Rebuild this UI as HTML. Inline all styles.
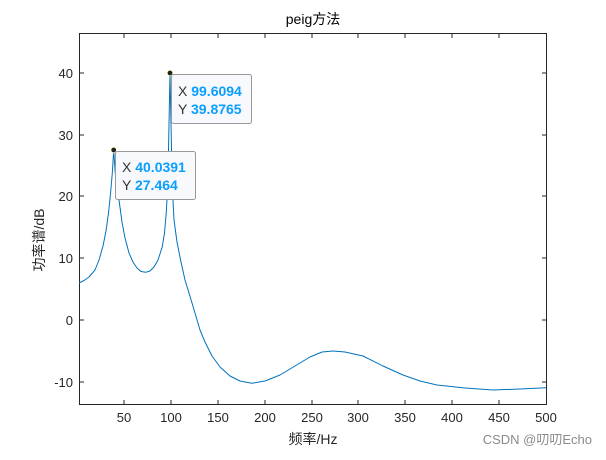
<!DOCTYPE html>
<html><head><meta charset="utf-8"><style>
body{margin:0;background:#fff;}
svg{font-family:"Liberation Sans","Noto Sans CJK SC",sans-serif;}
</style></head><body>
<svg width="606" height="455" xmlns="http://www.w3.org/2000/svg">
<rect width="606" height="455" fill="#fff"/>
<rect x="79.5" y="33.5" width="467" height="371" fill="#fff" stroke="#262626" stroke-width="1"/>
<g stroke="#262626" stroke-width="1">
<line x1="124" y1="404" x2="124" y2="400"/><line x1="124" y1="34" x2="124" y2="38"/>
<line x1="171" y1="404" x2="171" y2="400"/><line x1="171" y1="34" x2="171" y2="38"/>
<line x1="218" y1="404" x2="218" y2="400"/><line x1="218" y1="34" x2="218" y2="38"/>
<line x1="265" y1="404" x2="265" y2="400"/><line x1="265" y1="34" x2="265" y2="38"/>
<line x1="312" y1="404" x2="312" y2="400"/><line x1="312" y1="34" x2="312" y2="38"/>
<line x1="358" y1="404" x2="358" y2="400"/><line x1="358" y1="34" x2="358" y2="38"/>
<line x1="405" y1="404" x2="405" y2="400"/><line x1="405" y1="34" x2="405" y2="38"/>
<line x1="452" y1="404" x2="452" y2="400"/><line x1="452" y1="34" x2="452" y2="38"/>
<line x1="499" y1="404" x2="499" y2="400"/><line x1="499" y1="34" x2="499" y2="38"/>
<line x1="80" y1="73" x2="84" y2="73"/><line x1="546" y1="73" x2="542" y2="73"/>
<line x1="80" y1="135" x2="84" y2="135"/><line x1="546" y1="135" x2="542" y2="135"/>
<line x1="80" y1="196" x2="84" y2="196"/><line x1="546" y1="196" x2="542" y2="196"/>
<line x1="80" y1="258" x2="84" y2="258"/><line x1="546" y1="258" x2="542" y2="258"/>
<line x1="80" y1="320" x2="84" y2="320"/><line x1="546" y1="320" x2="542" y2="320"/>
<line x1="80" y1="382" x2="84" y2="382"/><line x1="546" y1="382" x2="542" y2="382"/>
</g>
<g font-size="13" fill="#262626" text-anchor="middle">
<text x="124" y="422">50</text><text x="171" y="422">100</text><text x="218" y="422">150</text>
<text x="265" y="422">200</text><text x="312" y="422">250</text><text x="358" y="422">300</text>
<text x="405" y="422">350</text><text x="452" y="422">400</text><text x="499" y="422">450</text><text x="546" y="422">500</text>
</g>
<g font-size="13" fill="#262626" text-anchor="end">
<text x="73" y="78">40</text><text x="73" y="140">30</text><text x="73" y="201">20</text>
<text x="73" y="263">10</text><text x="73" y="325">0</text><text x="73" y="387">-10</text>
</g>
<text x="313" y="24" font-size="14" text-anchor="middle" fill="#000">peig方法</text>
<text x="313" y="444" font-size="14" text-anchor="middle" fill="#262626">频率/Hz</text>
<text transform="translate(44,240) rotate(-90)" font-size="14" text-anchor="middle" fill="#262626">功率谱/dB</text>
<polyline fill="none" stroke="#0072BD" stroke-width="1" stroke-linejoin="round" points="79,283 84,280.5 89,277 95,270 99,260 103,246 106,231 108.5,213 110.5,194 112.3,173 113.7,150 115,170 116.5,186 119,200 122,222 125,238 129,253 133,262 137,268 141,271.5 145.7,272.3 150,271 154,267 158,260 162.3,246.7 164.5,233 166.3,212 167.5,190 168.5,150 170,73 171.5,150 172.7,195 174,220 177,242 181,262 185,280 189,293 195,313 200,330 205,342 212,356 220,367 230,376 240,381 251.7,383.3 265,381 280,375 295,366 310,357 322,352 333,351 345,352 363,356 383,366 403,375 420,381 437,385 465,388 493,390 520,389 546,387.7"/>
<circle cx="170" cy="73" r="2.8" fill="#222" stroke="#ffffc0" stroke-width="0.8"/>
<circle cx="113.7" cy="150" r="2.8" fill="#222" stroke="#ffffc0" stroke-width="0.8"/>
<rect x="171.5" y="74.5" width="80" height="49" rx="2" fill="#f8f9fc" stroke="#999" stroke-width="1"/>
<text x="178" y="96" font-size="14" fill="#333">X <tspan fill="#0a9eff" font-weight="bold">99.6094</tspan></text>
<text x="178" y="114" font-size="14" fill="#333">Y <tspan fill="#0a9eff" font-weight="bold">39.8765</tspan></text>
<rect x="115.5" y="151.5" width="80" height="48" rx="2" fill="#f8f9fc" stroke="#999" stroke-width="1"/>
<text x="122" y="172" font-size="14" fill="#333">X <tspan fill="#0a9eff" font-weight="bold">40.0391</tspan></text>
<text x="122" y="190" font-size="14" fill="#333">Y <tspan fill="#0a9eff" font-weight="bold">27.464</tspan></text>
<text x="592" y="444" font-size="13" text-anchor="end" fill="#8a8a8a">CSDN @叨叨Echo</text>
</svg>
</body></html>
